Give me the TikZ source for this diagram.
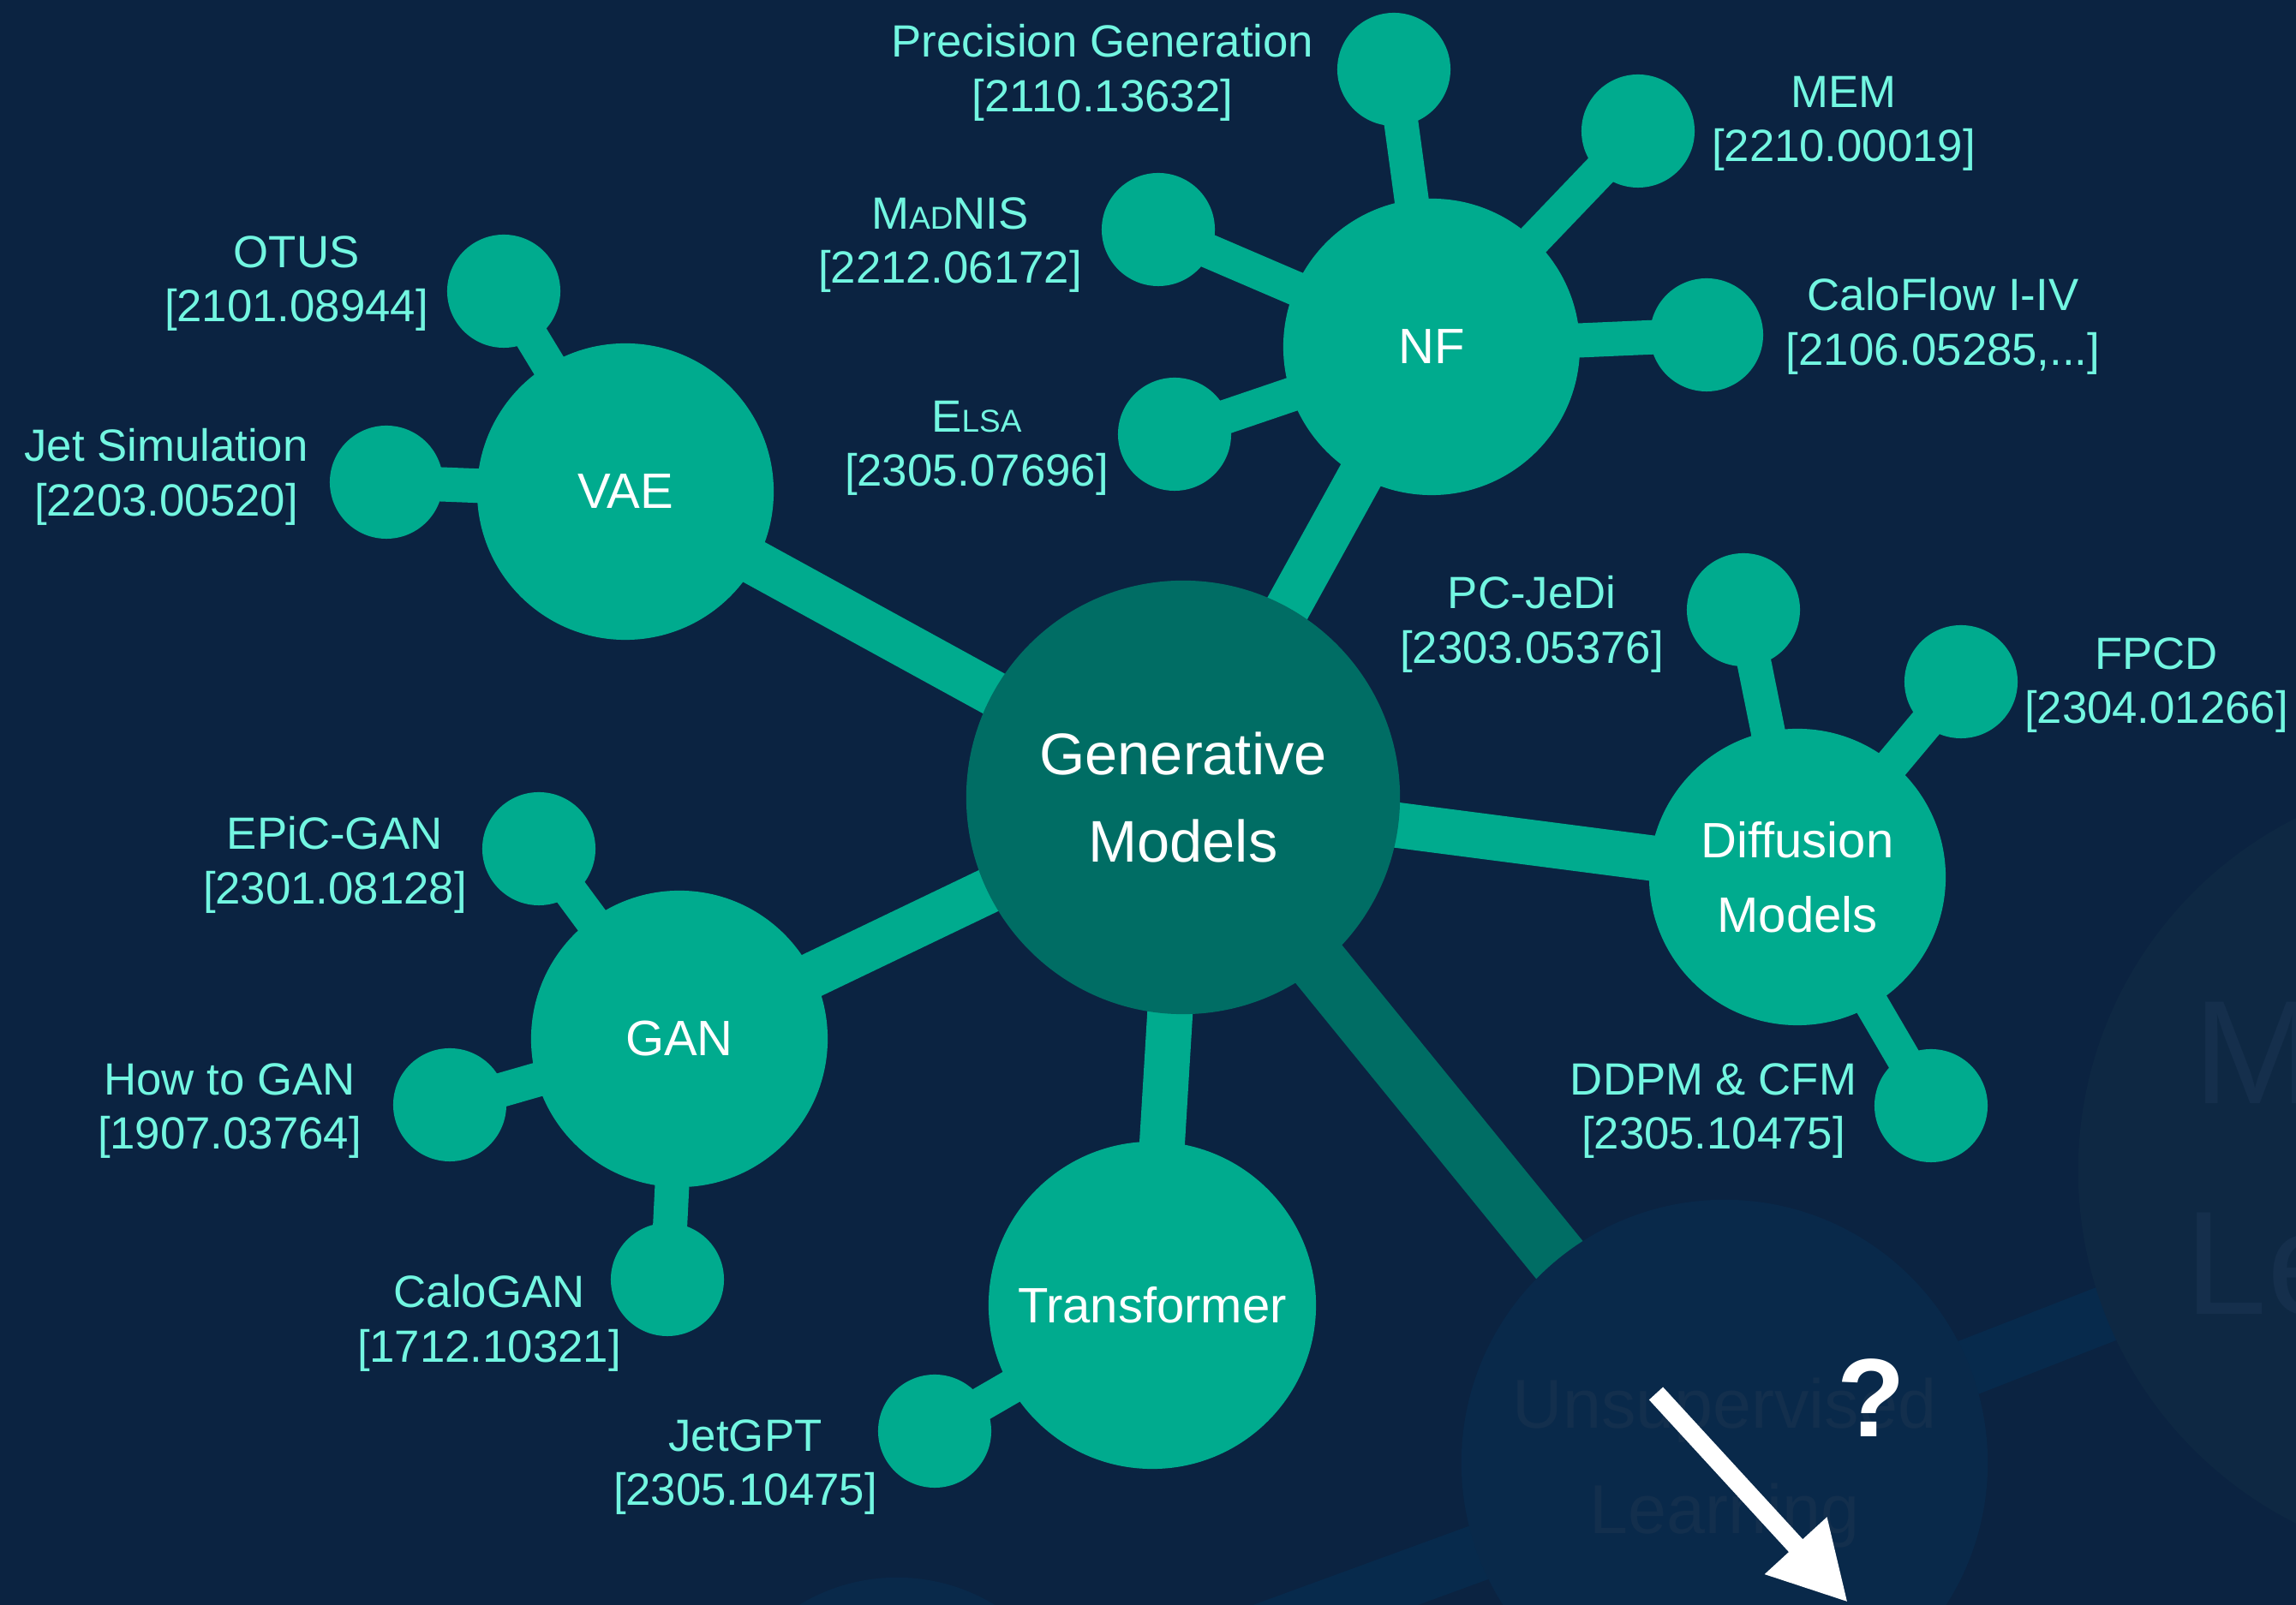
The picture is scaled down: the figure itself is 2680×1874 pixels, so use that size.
\documentclass[tikz,border=0pt]{standalone}
\usepackage{fontspec}
\setmainfont{Liberation Sans}
\usetikzlibrary{positioning,arrows.meta}

\definecolor{night}{HTML}{0B2341}
\definecolor{sea}{HTML}{00AB8E}
\definecolor{deep}{HTML}{006D64}
\definecolor{aqua}{HTML}{72F6E1}
\definecolor{haze}{HTML}{072A4C}
\definecolor{mist}{HTML}{09294A}
\definecolor{misttext}{HTML}{132F4D}
\definecolor{fog}{HTML}{0E2843}
\definecolor{fogtext}{HTML}{152F4C}

\pgfdeclarelayer{back}
\pgfsetlayers{back,main}

\newcommand{\smc}[1]{{\fontsize{10.5}{18}\selectfont #1}}

\tikzset{
  hub/.style={circle, fill=deep, minimum size=5.06cm, inner sep=0pt, text=white, align=center, font=\fontsize{19.5}{29}\selectfont},
  branch/.style={circle, fill=sea, minimum size=3.46cm, inner sep=0pt, text=white, align=center, font=\fontsize{16.5}{24.8}\selectfont},
  leaf/.style={circle, fill=sea, minimum size=1.32cm, inner sep=0pt},
  ref/.style={text=aqua, align=center, inner sep=0pt, font=\fontsize{15}{18}\selectfont},
  limb/.style={line width=0.53cm, sea},
  twig/.style={line width=0.4cm, sea},
  trunk/.style={line width=0.7cm, deep},
  band/.style={line width=0.66cm, haze},
  pointer/.style={white, line width=0.22cm, -{Triangle[width=0.92cm,length=0.9cm]}}
}

\begin{document}
\begin{tikzpicture}[x=0.01cm, y=-0.01cm]
	\useasboundingbox (0,0) rectangle (2680,1874);
	\begin{pgfonlayer}{back}
		\fill[night] (0,0) rectangle (2680,1874);
	\end{pgfonlayer}

	\node[circle, fill=fog, minimum size=9.2cm, inner sep=0pt, text=fogtext, align=center, font=\fontsize{49}{70}\selectfont] (ml) at (2886,1367) {Machine\\Learning};
	\node[circle, fill=mist, minimum size=6.14cm, inner sep=0pt, text=misttext, align=center, font=\fontsize{23}{35}\selectfont] (unsup) at (2013,1708) {Unsupervised\\Learning};
	\node[circle, fill=mist, minimum size=4.38cm, inner sep=0pt] (blob) at (1047,2061) {};

	\node[hub] (gm) at (1381,931) {Generative\\Models};
	\node[branch] (nf) at (1671,405) {NF};
	\node[branch] (vae) at (730,574) {VAE};
	\node[branch] (gan) at (793,1213) {GAN};
	\node[branch, minimum size=3.82cm] (trf) at (1345,1524) {Transformer};
	\node[branch] (diff) at (2098,1024) {Diffusion\\Models};

	\node[leaf] (pgen) at (1627,81) {};
	\node[leaf] (mem) at (1912,153) {};
	\node[leaf] (madnis) at (1352,268) {};
	\node[leaf] (caloflow) at (1992,391) {};
	\node[leaf] (elsa) at (1371,507) {};
	\node[leaf] (otus) at (588,340) {};
	\node[leaf] (jetsim) at (451,563) {};
	\node[leaf] (epic) at (629,991) {};
	\node[leaf] (howto) at (525,1290) {};
	\node[leaf] (calogan) at (779,1494) {};
	\node[leaf] (jetgpt) at (1091,1671) {};
	\node[leaf] (pcjedi) at (2035,712) {};
	\node[leaf] (fpcd) at (2289,796) {};
	\node[leaf] (ddpm) at (2254,1291) {};

	\node[ref] (pgenL) at (1287,85) {Precision Generation\\{[2110.13632]}};
	\node[ref] (memL) at (2152,144) {MEM\\{[2210.00019]}};
	\node[ref] (madnisL) at (1109,286) {M\smc{AD}NIS\\{[2212.06172]}};
	\node[ref] (caloflowL) at (2268,381) {CaloFlow I-IV\\{[2106.05285,...]}};
	\node[ref] (elsaL) at (1140,523) {E\smc{LSA}\\{[2305.07696]}};
	\node[ref] (otusL) at (346,331) {OTUS\\{[2101.08944]}};
	\node[ref] (jetsimL) at (194,557) {Jet Simulation\\{[2203.00520]}};
	\node[ref] (epicL) at (391,1010) {EPiC-GAN\\{[2301.08128]}};
	\node[ref] (howtoL) at (268,1297) {How to GAN\\{[1907.03764]}};
	\node[ref] (caloganL) at (571,1545) {CaloGAN\\{[1712.10321]}};
	\node[ref] (jetgptL) at (870,1713) {JetGPT\\{[2305.10475]}};
	\node[ref] (pcjediL) at (1788,729) {PC-JeDi\\{[2303.05376]}};
	\node[ref] (fpcdL) at (2517,800) {FPCD\\{[2304.01266]}};
	\node[ref] (ddpmL) at (2000,1297) {DDPM \& CFM\\{[2305.10475]}};

	\node[text=white, inner sep=0pt, font=\fontsize{37}{40}\selectfont\bfseries] (qm) at (2184,1632) {?};
	\coordinate (tail) at (1933,1627);
	\coordinate (tip) at (2157,1871);
	\draw[pointer] (tail) -- (tip);

	\begin{pgfonlayer}{back}
		\draw[band] (unsup.center) edge (ml.center) edge (blob.center);
		\draw[trunk] (gm.center) -- (unsup.center);
		\draw[limb] (gm.center) edge (vae.center) edge (nf.center) edge (gan.center)
		edge (trf.center) edge (diff.center);
		\draw[twig] (nf.center) edge (pgen.center) edge (mem.center) edge (madnis.center)
		edge (caloflow.center) edge (elsa.center)
		(vae.center) edge (otus.center) edge (jetsim.center)
		(gan.center) edge (epic.center) edge (howto.center) edge (calogan.center)
		(trf.center) edge (jetgpt.center)
		(diff.center) edge (pcjedi.center) edge (fpcd.center) edge (ddpm.center);
	\end{pgfonlayer}
\end{tikzpicture}
\end{document}
